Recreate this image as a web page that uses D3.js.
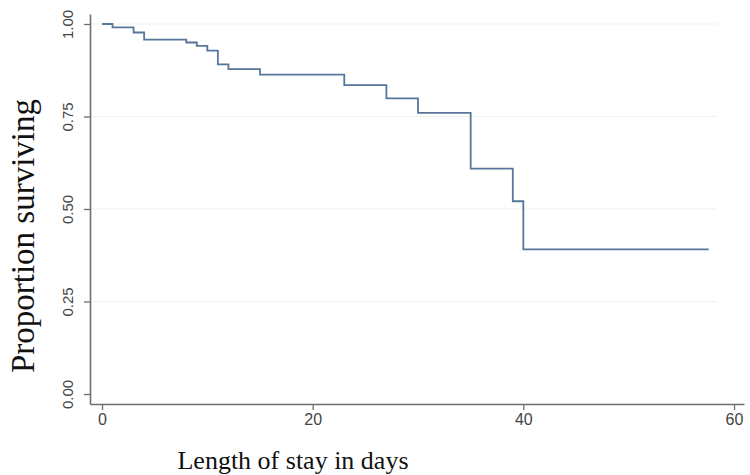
<!DOCTYPE html>
<html>
<head>
<meta charset="utf-8">
<script src="https://cdn.jsdelivr.net/npm/d3@7"></script>
<style>
  body { margin: 0; background: #fff; }
</style>
</head>
<body>
<div id="chart"></div>
<script>
// step times (days) and survival proportion after each step
const days = [0, 1, 3, 4, 8, 9, 10, 11, 12, 15, 23, 27, 30, 35, 39, 40, 57.6];
const surv = [1.0, 0.991, 0.977, 0.958, 0.95, 0.941, 0.928, 0.891, 0.878, 0.863, 0.835, 0.799, 0.760, 0.609, 0.521, 0.391, 0.391];
const xTicks = [0, 20, 40, 60];
const yTicks = [0, 0.25, 0.5, 0.75, 1];

const width = 750, height = 475;

const svg = d3.select('#chart').append('svg')
  .attr('width', width)
  .attr('height', height);

// axis lines run a bit past the data range, like stata does
const x = d3.scaleLinear().domain([-1.14, 60.95]).range([90, 744]);
const y = d3.scaleLinear().domain([-0.027, 1.027]).range([404, 14]);

// gridlines
svg.append('g')
  .selectAll('line')
  .data(yTicks.filter(d => d > 0))
  .join('line')
    .attr('x1', 91).attr('x2', 717)
    .attr('y1', d => y(d)).attr('y2', d => y(d))
    .attr('stroke', '#edf2f2')
    .attr('stroke-width', 1.2);

// y axis
const yAxis = svg.append('g')
  .attr('transform', 'translate(90,0)')
  .call(d3.axisLeft(y).tickValues(yTicks).tickFormat(d3.format('.2f')).tickSize(6).tickSizeOuter(0));
yAxis.select('.domain').attr('stroke', '#6e6e6e').attr('stroke-width', 1.6);
yAxis.selectAll('.tick line').attr('stroke', '#6e6e6e').attr('stroke-width', 1.3);
yAxis.selectAll('.tick text')
  .attr('x', 0).attr('dy', 0)
  .attr('transform', 'translate(-17,0) rotate(-90)')
  .attr('text-anchor', 'middle')
  .attr('fill', '#444')
  .style('font-family', 'Liberation Sans, Arial, sans-serif')
  .style('font-size', '15px');

// x axis
const xAxis = svg.append('g')
  .attr('transform', 'translate(0,404)')
  .call(d3.axisBottom(x).tickValues(xTicks).tickSize(6).tickSizeOuter(0));
xAxis.select('.domain').attr('stroke', '#6e6e6e').attr('stroke-width', 1.6);
xAxis.selectAll('.tick line').attr('stroke', '#6e6e6e').attr('stroke-width', 1.3);
xAxis.selectAll('.tick text')
  .attr('y', 10)
  .attr('fill', '#444')
  .style('font-family', 'Liberation Sans, Arial, sans-serif')
  .style('font-size', '16px');

// survival curve
const line = d3.line()
  .x((d, i) => x(days[i]))
  .y(d => y(d))
  .curve(d3.curveStepAfter);

svg.append('path')
  .datum(surv)
  .attr('d', line)
  .attr('fill', 'none')
  .attr('stroke', '#56769a')
  .attr('stroke-width', 1.8);

// axis titles
svg.append('text')
  .attr('transform', 'translate(34,236) rotate(-90)')
  .attr('text-anchor', 'middle')
  .style('font-family', 'Liberation Serif, Times New Roman, serif')
  .style('font-size', '33px')
  .attr('fill', '#111')
  .text('Proportion surviving');

svg.append('text')
  .attr('x', 293).attr('y', 469)
  .attr('text-anchor', 'middle')
  .style('font-family', 'Liberation Serif, Times New Roman, serif')
  .style('font-size', '26px')
  .attr('fill', '#111')
  .text('Length of stay in days');
</script>
</body>
</html>
